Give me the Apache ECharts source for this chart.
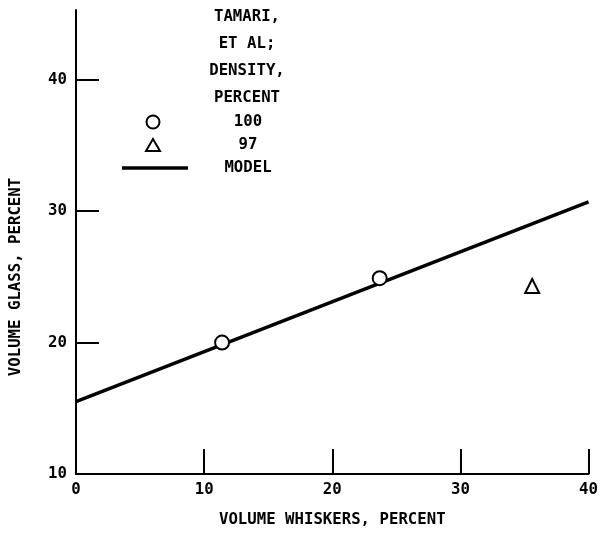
<!DOCTYPE html>
<html><head><meta charset="utf-8">
<script src="https://cdn.jsdelivr.net/npm/echarts@6/dist/echarts.min.js"></script>
<style>html,body{margin:0;padding:0;background:#fff}#c{width:601px;height:533px}</style>
</head><body><div id="c"></div>
<script>
const xTicks = [0, 10, 20, 30, 40];
const yTicks = [10, 20, 30, 40];
const density100 = [[11.4, 20.0], [23.7, 24.9]];
const density97 = [[35.6, 24.3]];
const model = [[0, 15.5], [40, 30.7]];
const legendHeader = ['TAMARI,', 'ET AL;', 'DENSITY,', 'PERCENT'];
const legendLabels = ['100', '97', 'MODEL'];

const FONT = '"DejaVu Sans Mono", "Liberation Mono", monospace';
const chart = echarts.init(document.getElementById('c'), null, {renderer: 'canvas'});
const txt = {fontFamily: FONT, fontSize: 15.7, fontWeight: 'bold', color: '#000'};
const font = 'bold 15.7px ' + FONT;

const graphics = [];
legendHeader.forEach((t, i) => graphics.push({type: 'text',
  style: {text: t, x: 247, y: 17 + i * 27, textAlign: 'center', textVerticalAlign: 'middle', fill: '#000', font: font}}));
graphics.push({type: 'circle', shape: {cx: 153, cy: 122, r: 6.5}, style: {fill: '#fff', stroke: '#000', lineWidth: 2}});
graphics.push({type: 'polygon', shape: {points: [[153, 139], [160, 151], [146, 151]]}, style: {fill: '#fff', stroke: '#000', lineWidth: 2}});
graphics.push({type: 'line', shape: {x1: 122, y1: 168, x2: 188, y2: 168}, style: {stroke: '#000', lineWidth: 3.5}});
[122, 145, 168].forEach((y, i) => graphics.push({type: 'text',
  style: {text: legendLabels[i], x: 248, y: y, textAlign: 'center', textVerticalAlign: 'middle', fill: '#000', font: font}}));

chart.setOption({
  animation: false,
  backgroundColor: '#fff',
  grid: {left: 75, right: 11, top: 10, bottom: 52},
  xAxis: {
    type: 'value', min: 0, max: 40, interval: 10,
    name: 'VOLUME WHISKERS, PERCENT', nameLocation: 'middle', nameGap: 38,
    nameTextStyle: txt,
    axisLine: {lineStyle: {color: '#000', width: 2}},
    axisTick: {inside: true, length: 25, lineStyle: {color: '#000', width: 2}, customValues: xTicks},
    axisLabel: Object.assign({margin: 8, customValues: xTicks}, txt),
    splitLine: {show: false}
  },
  yAxis: {
    type: 'value', min: 10, max: 45.3, interval: 10,
    name: 'VOLUME GLASS, PERCENT', nameLocation: 'middle', nameGap: 52, nameRotate: 90,
    nameTextStyle: Object.assign({padding: [0, 70, 0, 0]}, txt),
    axisLine: {lineStyle: {color: '#000', width: 2}},
    axisTick: {inside: true, length: 23, lineStyle: {color: '#000', width: 2}, customValues: yTicks},
    axisLabel: Object.assign({margin: 9, customValues: yTicks}, txt),
    splitLine: {show: false}
  },
  series: [
    {type: 'line', name: 'MODEL', data: model, showSymbol: false, z: 2,
     lineStyle: {color: '#000', width: 3.5}},
    {type: 'scatter', name: '100', data: density100, symbol: 'circle', symbolSize: 14, z: 3,
     itemStyle: {color: '#fff', borderColor: '#000', borderWidth: 2, opacity: 1}},
    {type: 'scatter', name: '97', data: density97, symbol: 'triangle', symbolSize: 14, z: 3,
     itemStyle: {color: '#fff', borderColor: '#000', borderWidth: 2, opacity: 1}}
  ],
  graphic: graphics
});
</script></body></html>
